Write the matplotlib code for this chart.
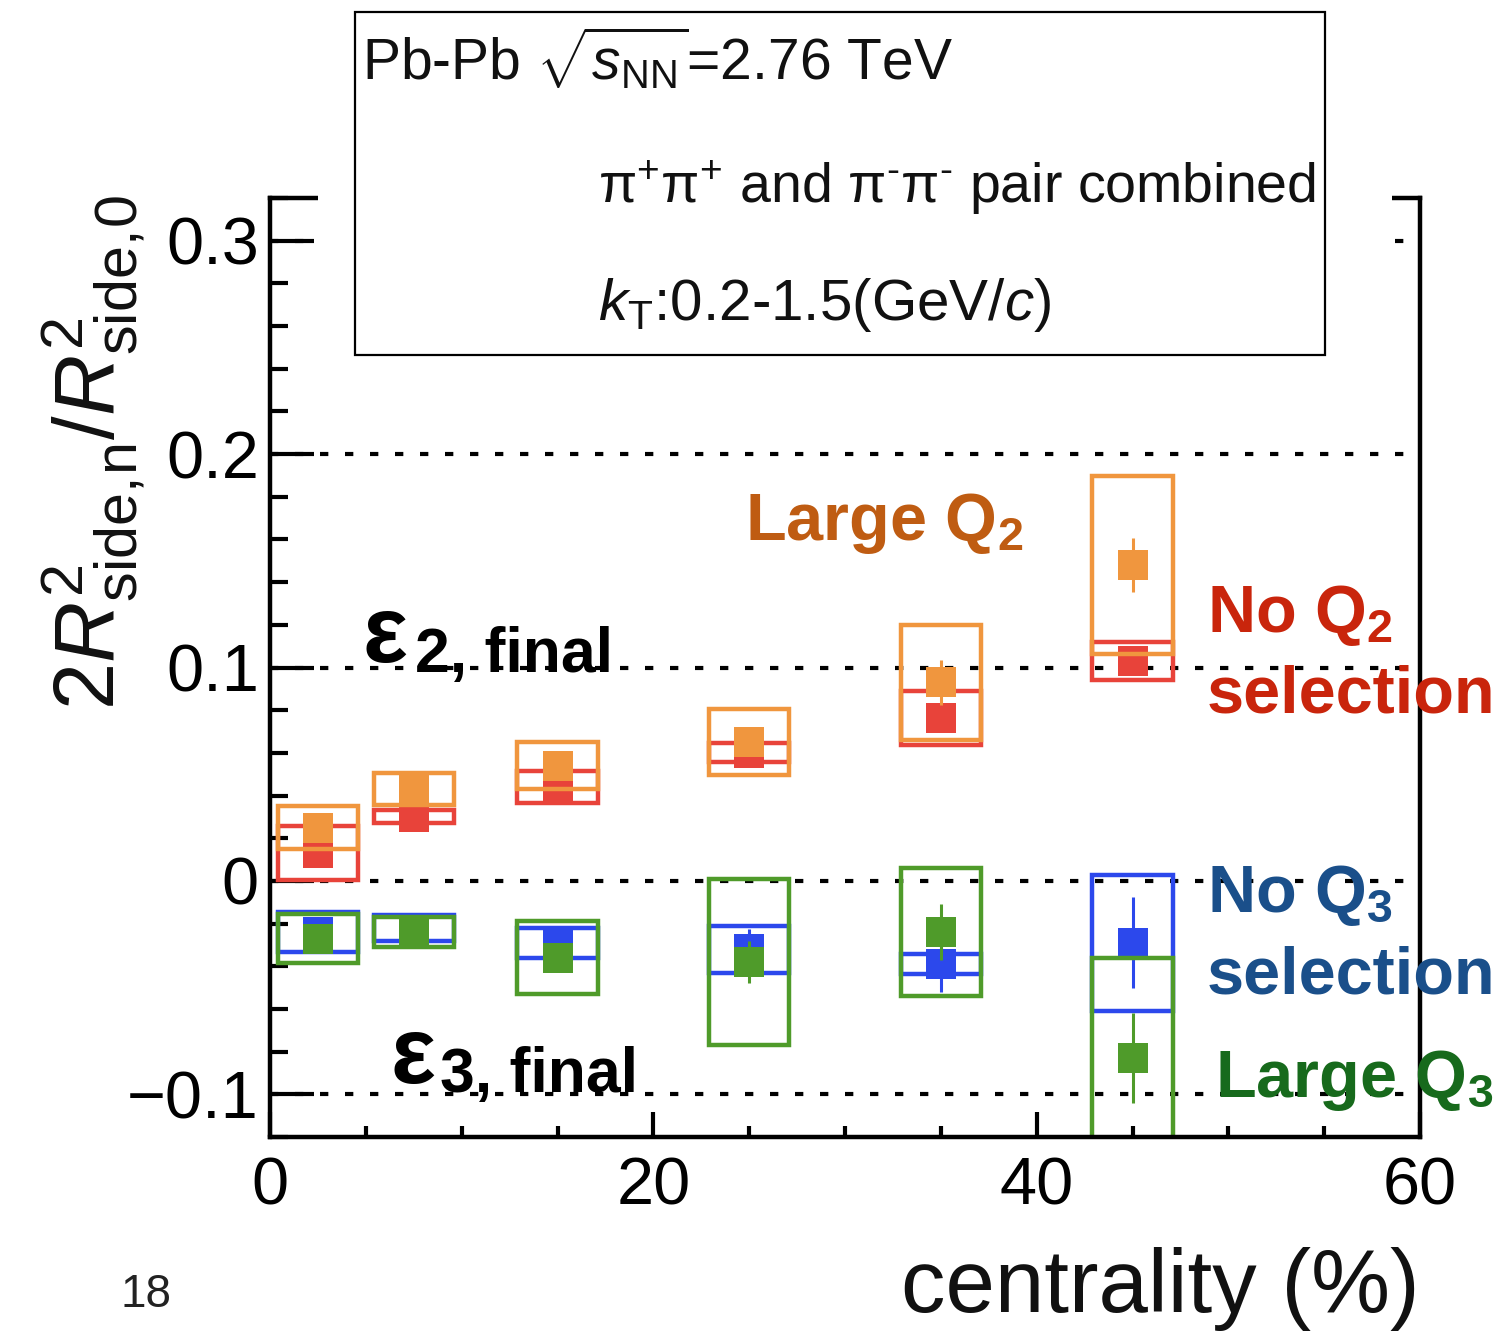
import matplotlib
matplotlib.use("Agg")
import matplotlib.pyplot as plt
from matplotlib.patches import Rectangle
from matplotlib.ticker import MultipleLocator

plt.rcParams["font.family"] = ["Liberation Sans", "DejaVu Sans"]
plt.rcParams["mathtext.fontset"] = "custom"
plt.rcParams["mathtext.rm"] = "Liberation Sans"
plt.rcParams["mathtext.it"] = "Liberation Sans:italic"
plt.rcParams["mathtext.bf"] = "Liberation Sans:bold"

# ---- data -----------------------------------------------------------------
centrality = [2.5, 7.5, 15, 25, 35, 45]

large_q2 = [0.025, 0.043, 0.054, 0.065, 0.093, 0.148]
large_q2_stat = [0.003, 0.003, 0.004, 0.004, 0.0105, 0.0125]
large_q2_sys = [0.010, 0.0075, 0.011, 0.0155, 0.027, 0.0415]

no_q2 = [0.013, 0.030, 0.044, 0.060, 0.0765, 0.103]
no_q2_stat = [0.003, 0.003, 0.003, 0.004, 0.005, 0.006]
no_q2_sys = [0.0125, 0.003, 0.0075, 0.0045, 0.0127, 0.009]

no_q3 = [-0.024, -0.022, -0.029, -0.032, -0.039, -0.029]
no_q3_stat = [0.003, 0.003, 0.004, 0.0096, 0.013, 0.0214]
no_q3_sys = [0.0095, 0.006, 0.007, 0.011, 0.0046, 0.032]

large_q3 = [-0.027, -0.024, -0.036, -0.038, -0.024, -0.083]
large_q3_stat = [0.003, 0.003, 0.004, 0.010, 0.013, 0.021]
large_q3_sys = [0.0113, 0.007, 0.017, 0.0388, 0.030, 0.047]

y_ticks = [-0.1, 0.0, 0.1, 0.2, 0.3]
y_ticklabels = ["\u22120.1", "0", "0.1", "0.2", "0.3"]
x_ticks = [0, 20, 40, 60]
x_ticklabels = ["0", "20", "40", "60"]

# ---- styling --------------------------------------------------------------
W, H = 1507, 1332
DPI = 100
BOX_HALF = 2.1

C_ORANGE = "#F0963E"
C_RED = "#E8433A"
C_BLUE = "#2C48EC"
C_GREEN = "#4F9B2A"


def px(x, y):
    """Pixel position (from top-left) to figure fraction."""
    return x / W, 1 - y / H


fig = plt.figure(figsize=(W / DPI, H / DPI), dpi=DPI)
fig.patch.set_facecolor("white")
x0, y0 = px(270, 1137)
x1, y1 = px(1420, 198)
ax = fig.add_axes([x0, y0, x1 - x0, y1 - y0])
ax.set_xlim(0, 60)
ax.set_ylim(-0.12, 0.32)

for yv in y_ticks:
    ax.axhline(yv, color="black", linewidth=3.0, linestyle=(0, (2, 4)), zorder=1)


def draw_series(x, y, stat, sys, color, z):
    for xi, yi, si in zip(x, y, sys):
        ax.add_patch(Rectangle((xi - BOX_HALF, yi - si), 2 * BOX_HALF, 2 * si,
                               fill=False, edgecolor=color, linewidth=3.2,
                               zorder=z))
    ax.errorbar(x, y, yerr=stat, fmt="s", color=color, markersize=21,
                markeredgewidth=0, elinewidth=2.2, capsize=3, capthick=3,
                zorder=z + 0.5)


draw_series(centrality, no_q2, no_q2_stat, no_q2_sys, C_RED, 3)
draw_series(centrality, large_q2, large_q2_stat, large_q2_sys, C_ORANGE, 4)
draw_series(centrality, no_q3, no_q3_stat, no_q3_sys, C_BLUE, 3)
draw_series(centrality, large_q3, large_q3_stat, large_q3_sys, C_GREEN, 4)

ax.set_xticks(x_ticks)
ax.set_xticklabels(x_ticklabels)
ax.set_yticks(y_ticks)
ax.set_yticklabels(y_ticklabels)
ax.xaxis.set_minor_locator(MultipleLocator(5))
ax.yaxis.set_minor_locator(MultipleLocator(0.02))
ax.tick_params(axis="both", which="both", direction="in", width=3,
               labelsize=48, top=False, right=False)
ax.tick_params(axis="y", which="major", length=32, pad=8)
ax.tick_params(axis="y", which="minor", length=13)
ax.tick_params(axis="x", which="major", length=18, pad=14)
ax.tick_params(axis="x", which="minor", length=8)
for sp in ax.spines.values():
    sp.set_linewidth(3.2)
    sp.set_zorder(6)

# info box (its white backing hides part of the top frame)
bx0, by0 = px(318, 355)
bx1, by1 = px(1392, 12)
fig.patches.append(Rectangle((bx0, by0), bx1 - bx0, by1 - by0,
                             transform=fig.transFigure, facecolor="white",
                             edgecolor="none", zorder=10))
bx0, by0 = px(355, 355)
bx1, by1 = px(1325, 12)
fig.patches.append(Rectangle((bx0, by0), bx1 - bx0, by1 - by0,
                             transform=fig.transFigure, facecolor="white",
                             edgecolor="black", linewidth=1.6, zorder=11))

fig.text(*px(362, 80), r"Pb-Pb $\sqrt{s_{\mathrm{NN}}}$=2.76 TeV",
         fontsize=41, va="baseline", ha="left", color="#111111", zorder=12)
pion_line = ("$\\mathrm{\\pi}^{+}\\mathrm{\\pi}^{+}$ and "
             "$\\mathrm{\\pi}^{\u2010}\\mathrm{\\pi}^{\u2010}$ pair combined")
fig.text(*px(598, 203), pion_line,
         fontsize=40, va="baseline", ha="left", color="#111111", zorder=12)
fig.text(*px(598, 320), r"$k_{\mathrm{T}}$:0.2-1.5(GeV/$c$)",
         fontsize=42, va="baseline", ha="left", color="#111111", zorder=12)

# axis titles
fig.text(*px(1420, 1312), "centrality (%)", fontsize=64, ha="right",
         va="baseline", color="#111111")
fig.text(*px(93, 195),
         r"$2R^{2}_{\mathrm{side,\!n}}/R^{2}_{\mathrm{side,\!0}}$",
         fontsize=61, rotation=90, ha="center", va="top", color="#111111")

# series labels
fig.text(*px(745, 540), r"Large Q$_{\mathdefault{2}}$", fontsize=48,
         fontweight="bold", color="#BF5C12", va="baseline")
fig.text(*px(1207, 632), r"No Q$_{\mathdefault{2}}$", fontsize=48,
         fontweight="bold", color="#C9250C", va="baseline")
fig.text(*px(1207, 712), "selection", fontsize=48,
         fontweight="bold", color="#C9250C", va="baseline")
fig.text(*px(1207, 912), r"No Q$_{\mathdefault{3}}$", fontsize=48,
         fontweight="bold", color="#1A4F8A", va="baseline")
fig.text(*px(1207, 993), "selection", fontsize=48,
         fontweight="bold", color="#1A4F8A", va="baseline")
fig.text(*px(1215, 1097), r"Large Q$_{\mathdefault{3}}$", fontsize=48,
         fontweight="bold", color="#176A1C", va="baseline")

# eccentricity labels
fig.text(*px(363, 662), "\u03b5", fontsize=68, fontweight="bold",
         color="black", va="baseline")
fig.text(*px(415, 672), "2, final", fontsize=45, fontweight="bold",
         color="black", va="baseline")
fig.text(*px(390, 1083), "\u03b5", fontsize=68, fontweight="bold",
         color="black", va="baseline")
fig.text(*px(440, 1092), "3, final", fontsize=45, fontweight="bold",
         color="black", va="baseline")

fig.text(*px(120, 1307), "18", fontsize=33, color="#222222", va="baseline")

fig.savefig("out.png", dpi=DPI)
